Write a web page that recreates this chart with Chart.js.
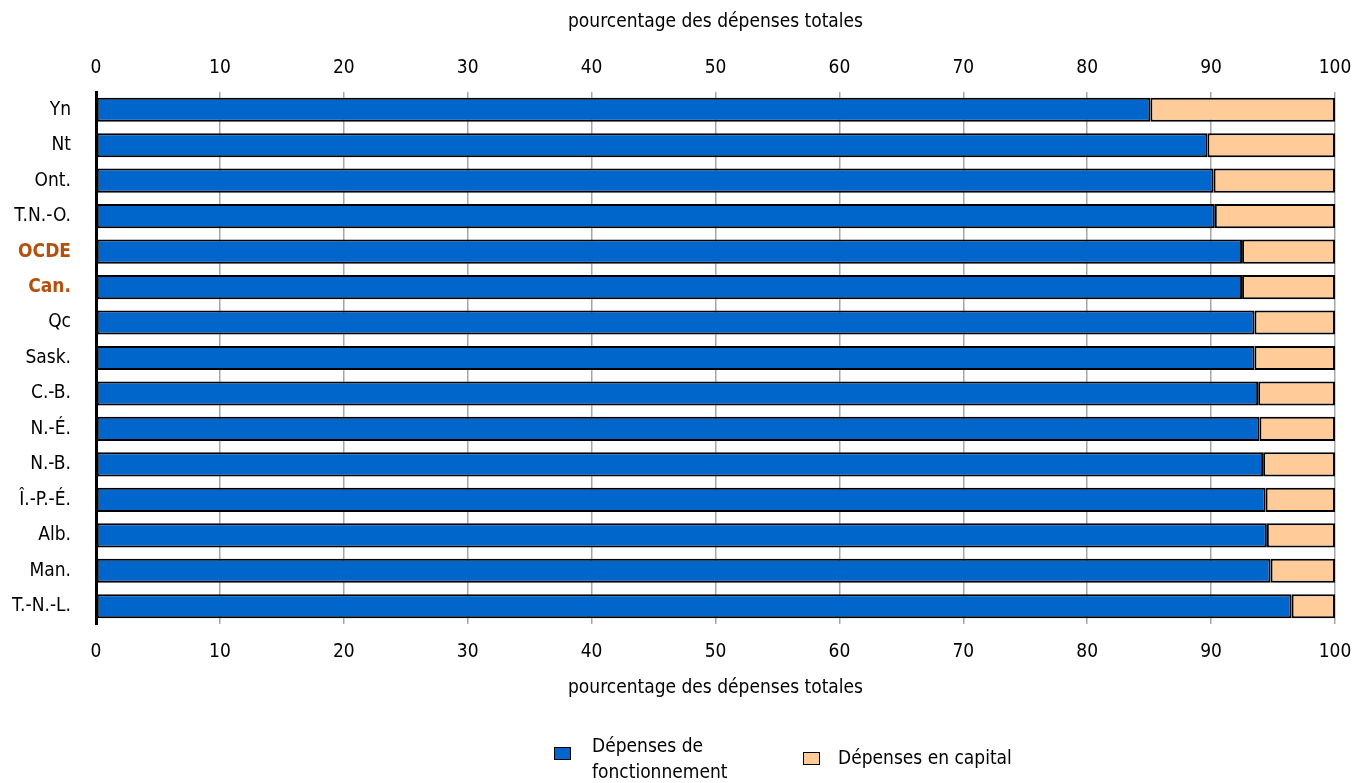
<!DOCTYPE html>
<html>
<head>
<meta charset="utf-8">
<script src="https://cdn.jsdelivr.net/npm/chart.js@4.4.1/dist/chart.umd.min.js"></script>
<style>
  html, body { margin: 0; padding: 0; background: #ffffff; }
  #wrap { width: 1364px; height: 783px; }
</style>
</head>
<body>
<div id="wrap"><canvas id="chart" width="1364" height="783"></canvas></div>
<script>
// Répartition des dépenses : fonctionnement vs capital (en % des dépenses totales)
const categories = ['Yn', 'Nt', 'Ont.', 'T.N.-O.', 'OCDE', 'Can.', 'Qc', 'Sask.', 'C.-B.', 'N.-É.', 'N.-B.', 'Î.-P.-É.', 'Alb.', 'Man.', 'T.-N.-L.'];
const depensesFonctionnement = [85.1, 89.7, 90.2, 90.3, 92.5, 92.5, 93.5, 93.5, 93.8, 93.9, 94.2, 94.4, 94.5, 94.8, 96.5];
const depensesCapital = [14.9, 10.3, 9.8, 9.7, 7.5, 7.5, 6.5, 6.5, 6.2, 6.1, 5.8, 5.6, 5.5, 5.2, 3.5];
const xTicks = [0, 10, 20, 30, 40, 50, 60, 70, 80, 90, 100];
const highlighted = ['OCDE', 'Can.'];
const axisTitle = 'pourcentage des dépenses totales';
const legendLabels = [['Dépenses de', 'fonctionnement'], ['Dépenses en capital']];

const FONT = "'Liberation Sans Narrow', 'DejaVu Sans Condensed', 'Arial Narrow', sans-serif";
const BLUE = '#0066CC';
const PEACH = '#FFCC99';
const HILITE = '#B4500F';

// Légende dessinée sous le graphique (premier libellé sur deux lignes)
const bottomLegend = {
  id: 'bottomLegend',
  afterDraw(chart) {
    const ctx = chart.ctx;
    const colors = [BLUE, PEACH];
    const items = [
      { box: 554, boxCy: 753, text: 592, firstY: 747 },
      { box: 803, boxCy: 758, text: 838, firstY: 759 }
    ];
    const lh = 26;
    ctx.save();
    ctx.font = '19px ' + FONT;
    ctx.textBaseline = 'middle';
    ctx.textAlign = 'left';
    items.forEach((it, i) => {
      ctx.fillStyle = colors[i];
      ctx.fillRect(it.box, it.boxCy - 6, 17, 13);
      ctx.lineWidth = 1;
      ctx.strokeStyle = '#000';
      ctx.strokeRect(it.box + 0.5, it.boxCy - 6 + 0.5, 16, 12);
      ctx.fillStyle = '#000';
      legendLabels[i].forEach((ln, j) => {
        ctx.fillText(ln, it.text, it.firstY + j * lh);
      });
    });
    ctx.restore();
  }
};

const tickFont = { family: FONT, size: 19 };

// Les libellés d'extrémité ne doivent pas rétrécir la zone de tracé
function fixHorizontal(height) {
  return (scale) => {
    scale.height = height;
    scale.paddingLeft = 0;
    scale.paddingRight = 0;
  };
}

new Chart(document.getElementById('chart'), {
  type: 'bar',
  data: {
    labels: categories,
    datasets: [
      {
        label: legendLabels[0].join(' '),
        data: depensesFonctionnement,
        backgroundColor: BLUE,
        borderColor: '#000',
        borderWidth: 2,
        borderSkipped: false,
        barPercentage: 0.68,
        categoryPercentage: 1
      },
      {
        label: legendLabels[1].join(' '),
        data: depensesCapital,
        backgroundColor: PEACH,
        borderColor: '#000',
        borderWidth: 2,
        borderSkipped: false,
        barPercentage: 0.68,
        categoryPercentage: 1
      }
    ]
  },
  options: {
    indexAxis: 'y',
    responsive: false,
    animation: false,
    layout: { padding: { left: 0, right: 29, top: 0, bottom: 0 } },
    plugins: {
      legend: { display: false },
      tooltip: { enabled: false }
    },
    scales: {
      x: {
        position: 'bottom',
        stacked: true,
        min: 0,
        max: 100,
        afterBuildTicks(scale) { scale.ticks = xTicks.map(v => ({ value: v })); },
        afterFit: fixHorizontal(159),
        grid: { display: true, color: '#A6A6A6', lineWidth: 1.5, drawTicks: false },
        border: { display: false },
        ticks: { font: tickFont, color: '#000', padding: 17, maxRotation: 0 },
        title: { display: true, text: axisTitle, font: tickFont, color: '#000', padding: { top: 4, bottom: 84 } }
      },
      x2: {
        position: 'top',
        type: 'linear',
        min: 0,
        max: 100,
        afterBuildTicks(scale) { scale.ticks = xTicks.map(v => ({ value: v })); },
        afterFit: fixHorizontal(92),
        grid: { display: false, drawTicks: false },
        border: { display: false },
        ticks: { font: tickFont, color: '#000', padding: 13, maxRotation: 0 },
        title: { display: true, text: axisTitle, font: tickFont, color: '#000', padding: { top: 11, bottom: 4 } }
      },
      y: {
        stacked: true,
        afterFit(scale) { scale.width = 96; },
        grid: { display: false, drawTicks: false },
        border: { display: true, color: '#000', width: 3 },
        ticks: {
          padding: 25,
          color: (ctx) => highlighted.includes(categories[ctx.index]) ? HILITE : '#000',
          font: (ctx) => ({
            family: FONT,
            size: 19,
            weight: highlighted.includes(categories[ctx.index]) ? 'bold' : 'normal'
          })
        }
      }
    }
  },
  plugins: [bottomLegend]
});
</script>
</body>
</html>
